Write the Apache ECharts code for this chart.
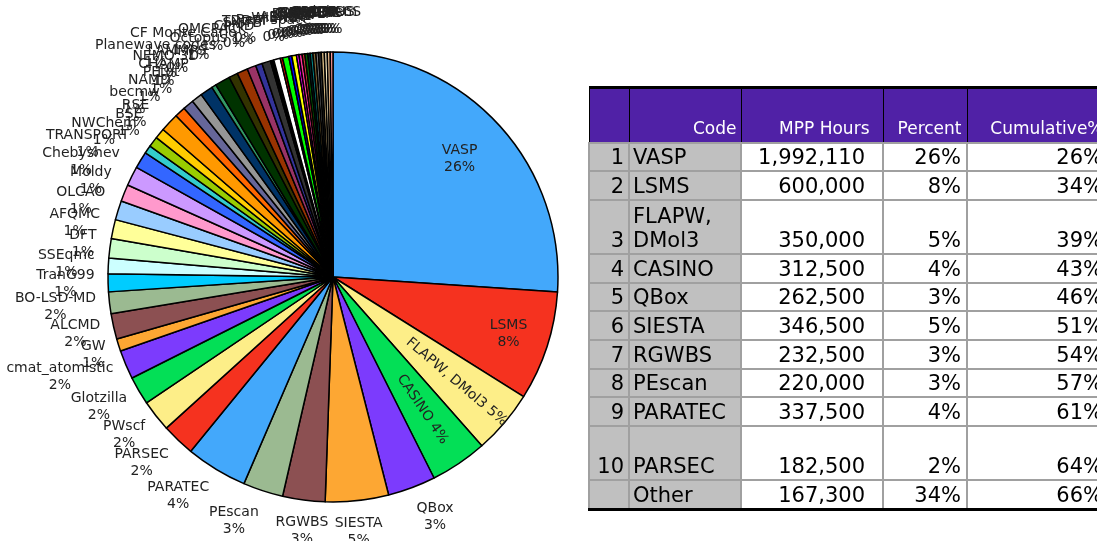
<!DOCTYPE html>
<html>
<head>
<meta charset="utf-8">
<title>MPP hours by code</title>
<script src="https://cdn.jsdelivr.net/npm/echarts@6/dist/echarts.min.js"></script>
<style>
  html, body { margin: 0; padding: 0; background: #fff; overflow: hidden; width: 1097px; height: 541px; }
  #chart { position: absolute; left: 0; top: 0; width: 1097px; height: 541px; }
  #codes { position: absolute; left: 588px; top: 86px; border-collapse: collapse; table-layout: fixed;
           width: 519px; font-family: 'DejaVu Sans', Verdana, sans-serif; color: #000; }
  #codes th, #codes td { padding: 0 4px 1px 4px; vertical-align: bottom; white-space: nowrap;
                         overflow: hidden; line-height: 1.15; }
  #codes thead tr { height: 55px; }
  #codes th { background: #5021a6; color: #fff; font-weight: normal; font-size: 17px; text-align: right;
              border: 1px solid #000; border-top: 3px solid #000; padding-bottom: 3px; }
  #codes td { font-size: 21px; text-align: right; background: #fff; border: 2px solid #a0a0a0; }
  #codes tr.row td { height: 25.6px; }
  #codes tr.tall td { height: 51.6px; }
  #codes tr.last td { border-bottom: 3px solid #000; }
  #codes td.c0, #codes td.c1 { background: #c0c0c0; }
  #codes td.c1 { text-align: left; white-space: normal; padding-left: 3px; }
  #codes td.c2 { padding-right: 17px; }
  #codes th.c2 { padding-right: 13px; }
  #codes .c3 { padding-right: 5px; }
  #codes .c4 { padding-right: 4px; }
</style>
</head>
<body>
<div id="chart"></div>
<table id="codes">
  <colgroup><col style="width:40px"><col style="width:112px"><col style="width:142px"><col style="width:84px"><col style="width:141px"></colgroup>
  <thead><tr id="head"></tr></thead>
  <tbody id="rows"></tbody>
</table>
<script>
// table of the ten biggest codes
var tableHeader = ['', 'Code', 'MPP Hours', 'Percent', 'Cumulative%'];
var tableRank = ['1', '2', '3', '4', '5', '6', '7', '8', '9', '10', ''];
var tableCode = ['VASP', 'LSMS', 'FLAPW, DMol3', 'CASINO', 'QBox', 'SIESTA', 'RGWBS', 'PEscan', 'PARATEC', 'PARSEC', 'Other'];
var tableHours = [1992110, 600000, 350000, 312500, 262500, 346500, 232500, 220000, 337500, 182500, 167300];
var tablePercent = ['26%', '8%', '5%', '4%', '3%', '5%', '3%', '3%', '4%', '2%', '34%'];
var tableCumulative = ['26%', '34%', '39%', '43%', '46%', '51%', '54%', '57%', '61%', '64%', '66%'];

// remaining slices of the pie, clockwise after PARSEC
var otherNames = ['PWscf', 'Glotzilla', 'cmat_atomistic', 'GW', 'ALCMD', 'BO-LSD-MD', 'TranG99', 'SSEqmc',
  'DFT', 'AFQMC', 'OLCAO', 'Moldy', 'Chebyshev', 'TRANSPORT', 'NWChem', 'BSE', 'RSE', 'becmw', 'NAMD',
  'PEtot', 'CHAMP', 'NEMO 3D', 'LAMMPS', 'Planewave codes', 'Octopus', 'CF Monte Carlo', 'QMCPACK', 'CPMD',
  'SX-TB', 'TDDFT', 'Real space', 'WIEN2k', 'ABINIT', 'KKR', 'LMTO', 'CP2K', 'FLEUR', 'DL_POLY', 'GAMESS',
  'ONETEP', 'CRYSTAL', 'BigDFT', 'Dalton', 'MOPAC', 'ADF', 'GROMACS', 'Q-Chem', 'SIRIUS'];
var otherHours = [174000, 155000, 159000, 68000, 140000, 119000, 98000, 85000,
  106000, 105000, 106000, 93000, 106000, 93000, 44000, 57000, 57000, 102000, 59000,
  60000, 59000, 70000, 25000, 83000, 49000, 59000, 49000, 36000,
  47000, 19000, 36000, 13000, 34000, 17000, 25000, 14000, 17000, 15000, 16000,
  13000, 15000, 16000, 14000, 15000, 17000, 16000, 16000, 15000];

var sliceColors = ['#43a8fb', '#f5321f', '#fdee88', '#03df56', '#7c3bfd', '#fda733', '#8c5052', '#9bba91',
  '#43a8fb', '#f5321f', '#fdee88', '#03df56', '#7c3bfd', '#fda733', '#8c5052', '#9bba91',
  '#00ccff', '#ccffff', '#ccffcc', '#ffff99', '#99ccff', '#ff99cc', '#cc99ff', '#3366ff', '#33cccc',
  '#99cc00', '#ffcc00', '#ff9900', '#ff6600', '#666699', '#969696', '#003366', '#339966', '#003300',
  '#333300', '#993300', '#993366', '#333399', '#333333', '#000000', '#ffffff', '#ff0000', '#00ff00',
  '#0000ff', '#ffff00', '#ff00ff', '#ff3399', '#cc3333', '#006600', '#003333', '#008080', '#806633',
  '#808080', '#333333', '#cfb27c', '#f5e6bf', '#ffcc99', '#ff9999'];

var CX = 333, CY = 277, R = 225;
var KX = 1.06, KY = 1.14;   // outside label distance, as a share of the radius
var TALL_ROWS = [2, 9];
// labels drawn inside their slice: [fraction of radius, rotated]
var insideLabels = { 0: [0.77, false], 1: [0.82, false], 2: [0.72, true], 3: [0.71, true] };

var pieNames = tableCode.slice(0, 10).concat(otherNames);
var pieValues = tableHours.slice(0, 10).concat(otherHours);
var total = pieValues.reduce(function (a, b) { return a + b; }, 0);

var midAngle = [];
var acc = 0;
pieValues.forEach(function (v) {
  midAngle.push((acc + v / 2) / total * Math.PI * 2);
  acc += v;
});

function pct(v) { return Math.round(v / total * 100) + '%'; }

// build the table
var head = document.getElementById('head');
tableHeader.forEach(function (h, i) {
  var th = document.createElement('th');
  th.className = 'c' + i;
  th.textContent = h;
  head.appendChild(th);
});
var body = document.getElementById('rows');
tableCode.forEach(function (code, r) {
  var tr = document.createElement('tr');
  tr.className = (TALL_ROWS.indexOf(r) >= 0 ? 'tall' : 'row') + (r === tableCode.length - 1 ? ' last' : '');
  [tableRank[r], code, tableHours[r].toLocaleString('en-US'), tablePercent[r], tableCumulative[r]].forEach(function (t, i) {
    var td = document.createElement('td');
    td.className = 'c' + i;
    td.textContent = t;
    tr.appendChild(td);
  });
  body.appendChild(tr);
});

var data = pieNames.map(function (n, i) {
  var item = { name: n, value: pieValues[i], itemStyle: { color: sliceColors[i] } };
  if (insideLabels[i]) {
    item.label = { position: 'inside' };
    if (insideLabels[i][1]) item.label.rotate = 'radial';
  }
  return item;
});

var myChart = echarts.init(document.getElementById('chart'));
var option = {
  animation: false,
  series: [
    {
      type: 'pie',
      center: [CX, CY],
      radius: R,
      startAngle: 90,
      clockwise: true,
      avoidLabelOverlap: false,
      itemStyle: { borderColor: '#000', borderWidth: 1.5 },
      label: {
        position: 'outside',
        fontFamily: 'DejaVu Sans',
        fontSize: 14,
        lineHeight: 17,
        color: '#222',
        overflow: 'none',
        formatter: function (p) {
          if (insideLabels[p.dataIndex] && insideLabels[p.dataIndex][1]) return p.name + ' ' + pct(p.value);
          return p.name + '\n' + pct(p.value);
        }
      },
      labelLine: { show: false, length: 21, length2: 0 },
      emphasis: { disabled: true },
      labelLayout: function (p) {
        var a = midAngle[p.dataIndex];
        var s = Math.sin(a), c = Math.cos(a);
        var ins = insideLabels[p.dataIndex];
        if (ins) {
          return { x: CX + ins[0] * R * s, y: CY - ins[0] * R * c, align: 'center', verticalAlign: 'middle' };
        }
        // anchor on a slightly taller ellipse; side labels hang off it, top and bottom ones sit centred
        var ax = CX + KX * R * s, ay = CY - KY * R * c;
        var w = p.labelRect.width;
        var x = Math.abs(s) < 0.25 ? ax : (s > 0 ? ax + w / 2 : ax - w / 2);
        return { x: x, y: ay, align: 'center', verticalAlign: 'middle' };
      },
      data: data
    }
  ]
};
myChart.setOption(option);
</script>
</body>
</html>
